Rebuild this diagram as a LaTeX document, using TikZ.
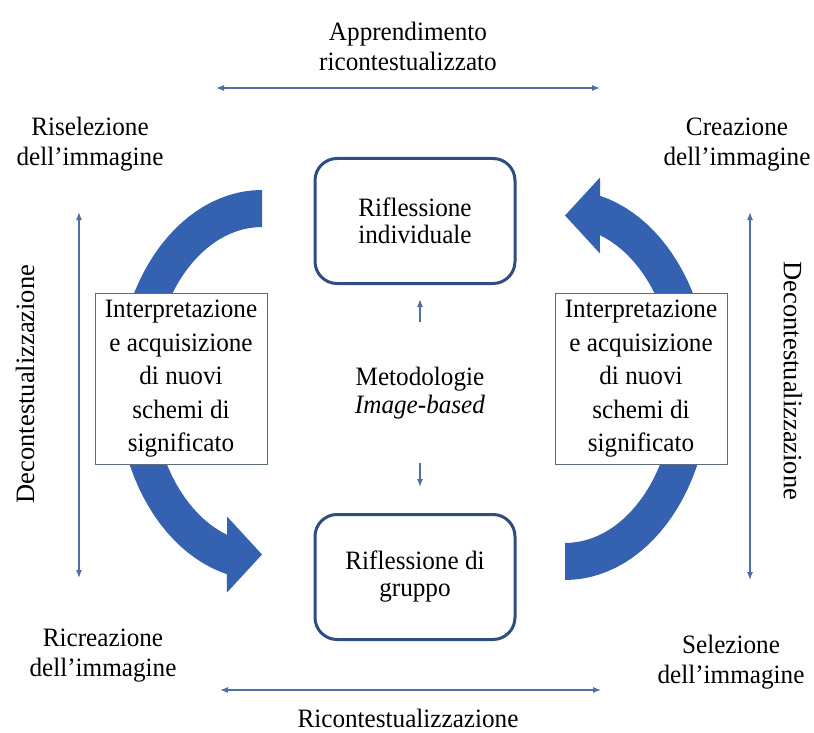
\documentclass[tikz,border=0pt]{standalone}
\usepackage{fontspec}
\setmainfont{Liberation Serif}[FakeStretch=0.95]
\newfontfamily\rotfont{Liberation Serif}
\usetikzlibrary{arrows.meta,shapes}
\usetikzlibrary{calc}
\definecolor{boxblue}{HTML}{2F4D7E}
\definecolor{bandblue}{HTML}{3461B0}
\definecolor{lineblue}{HTML}{4F6FA6}
\definecolor{framegrey}{HTML}{5E6B78}
\tikzstyle{reflection}=[rectangle,rounded corners=22pt,draw=boxblue,line width=3pt,fill=white,minimum width=200pt,minimum height=125pt,align=center,font=\fontsize{26.5}{27}\selectfont]
\tikzstyle{meaning}=[rectangle,draw=framegrey,line width=1pt,fill=white,minimum width=172pt,minimum height=171pt,inner sep=0pt,align=center,font=\fontsize{26.5}{33.5}\selectfont]
\tikzstyle{cornertext}=[align=center,inner sep=0pt,font=\fontsize{26.5}{30}\selectfont]
\tikzstyle{thinarrow} = [draw=lineblue,line width=1.1pt,{Latex[length=8pt,width=6pt]}-{Latex[length=8pt,width=6pt]}]
\tikzstyle{onearrow} = [draw=lineblue,line width=1.1pt,-{Latex[length=8pt,width=6pt]}]
\tikzstyle{curvedarrow} = [fill=bandblue]

\begin{document}
\begin{tikzpicture}[x=1pt,y=-1pt]
    \useasboundingbox (0,0) rectangle (814,733);

    % the two bent arrows, the second one turned round the middle
    \foreach \turn in {0,180}
        \fill[curvedarrow,rotate around={\turn:(413.5,385)}]
            plot[domain=90:256,samples=50,variable=\t] ({262+145*cos(\t)},{385-195*sin(\t)})
            -- (227,592.5) -- (262,554.5) -- (227,516.5)
            -- plot[domain=251.5:90,samples=50,variable=\t] ({262+110*cos(\t)},{385-158*sin(\t)})
            -- cycle;

    \node[reflection] (indiv) at (415,221) {Riflessione\\individuale};
    \node[reflection] (group) at (415,577) {Riflessione di\\gruppo};

    \foreach \pos/\name in {{(181,379)/meanleft},{(641,379)/meanright}}
        \node[meaning] (\name) at \pos {Interpretazione\\e acquisizione\\di nuovi\\schemi di\\significato};

    \node[cornertext,font=\fontsize{26.5}{28}\selectfont] (metod) at (420,393) {Metodologie\\\textit{Image-based}};
    \draw[onearrow,shorten <=45pt,shorten >=14pt] (metod.north) -- (metod.north |- indiv.south);
    \draw[onearrow,shorten <=44pt,shorten >=26pt] (metod.south) -- (metod.south |- group.north);

    \foreach \pos/\name/\txt in {{(408,46)/learn/{Apprendimento\\ricontestualizzato}},
                                 {(90,144)/reselect/{Riselezione\\dell'immagine}},
                                 {(737,145)/create/{Creazione\\dell'immagine}},
                                 {(103,656)/recreate/{Ricreazione\\dell'immagine}},
                                 {(731,662)/select/{Selezione\\dell'immagine}},
                                 {(408,718)/recont/{Ricontestualizzazione}}}
        \node[cornertext] (\name) at \pos {\txt};

    \node[rotate=90,font=\rotfont\fontsize{26.5}{30}\selectfont] (decleft) at (25,384) {Decontestualizzazione};
    \node[rotate=-90,font=\rotfont\fontsize{26.5}{30}\selectfont] (decright) at (793,381) {Decontestualizzazione};

    % ends of the thin double arrows
    \coordinate (topl) at (216,88);
    \coordinate (topr) at (600,88);
    \coordinate (botl) at (220,690);
    \coordinate (botr) at (601,690);
    \coordinate (lefttop) at (79,212);
    \coordinate (leftbot) at (79,578);
    \coordinate (righttop) at (750,212);
    \coordinate (rightbot) at (750,580);
    \foreach \source/ \dest in {topl/topr, botl/botr, lefttop/leftbot, righttop/rightbot}
        \path[thinarrow] (\source) -- (\dest);

\end{tikzpicture}
\end{document}
